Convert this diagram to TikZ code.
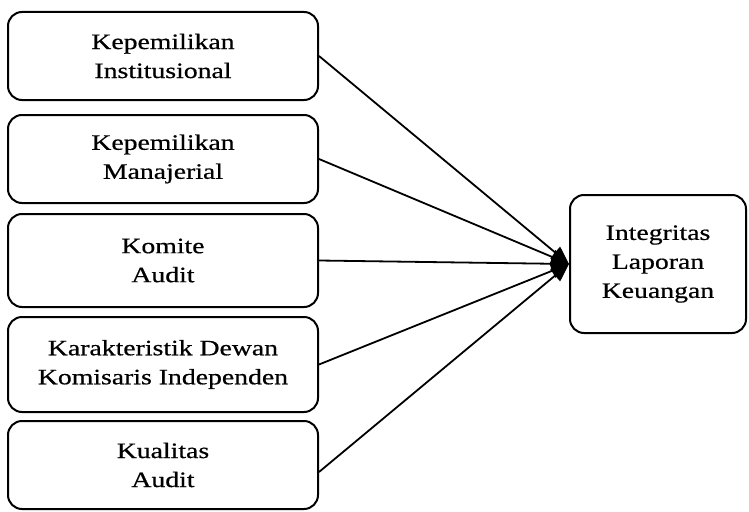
\documentclass[tikz,border=0pt]{standalone}
\usepackage{fontspec}
\setmainfont{Liberation Serif}[FakeStretch=1.26, FakeBold=0.6]
\usetikzlibrary{arrows.meta}
\begin{document}
\begin{tikzpicture}[x=1pt, y=-1pt, line width=2pt,
    varbox/.style={draw, rounded corners=14pt, align=center, inner sep=0pt,
      font=\fontsize{22}{29}\selectfont},
    link/.style={line width=1.8pt, -{Triangle[length=18pt,width=15pt]}}]
      \useasboundingbox (0, 0) rectangle (749, 511);
      \node [varbox, minimum width=310, minimum height=88] (inst) at (163, 56) {Kepemilikan\\Institusional};
      \node [varbox, minimum width=310, minimum height=88] (manj) at (163, 159) {Kepemilikan\\Manajerial};
      \node [varbox, minimum width=310, minimum height=93] (komite) at (163, 260.5) {Komite\\Audit};
      \node [varbox, minimum width=310, minimum height=95] (dewan) at (163, 364.5) {Karakteristik Dewan\\Komisaris Independen};
      \node [varbox, minimum width=310, minimum height=88] (kual) at (163, 465) {Kualitas\\Audit};

      \node [varbox, minimum width=176, minimum height=138] (ilk) at (658, 264) {Integritas\\Laporan\\Keuangan};

      \draw [link] (inst.east) -- (ilk.west);
      \draw [link] (manj.east) -- (ilk.west);
      \draw [link] (komite.east) -- (ilk.west);
      \draw [link] (dewan.east) -- (ilk.west);
      \draw [link] ([yshift=-7pt]kual.east) -- (ilk.west);
\end{tikzpicture}
\end{document}
